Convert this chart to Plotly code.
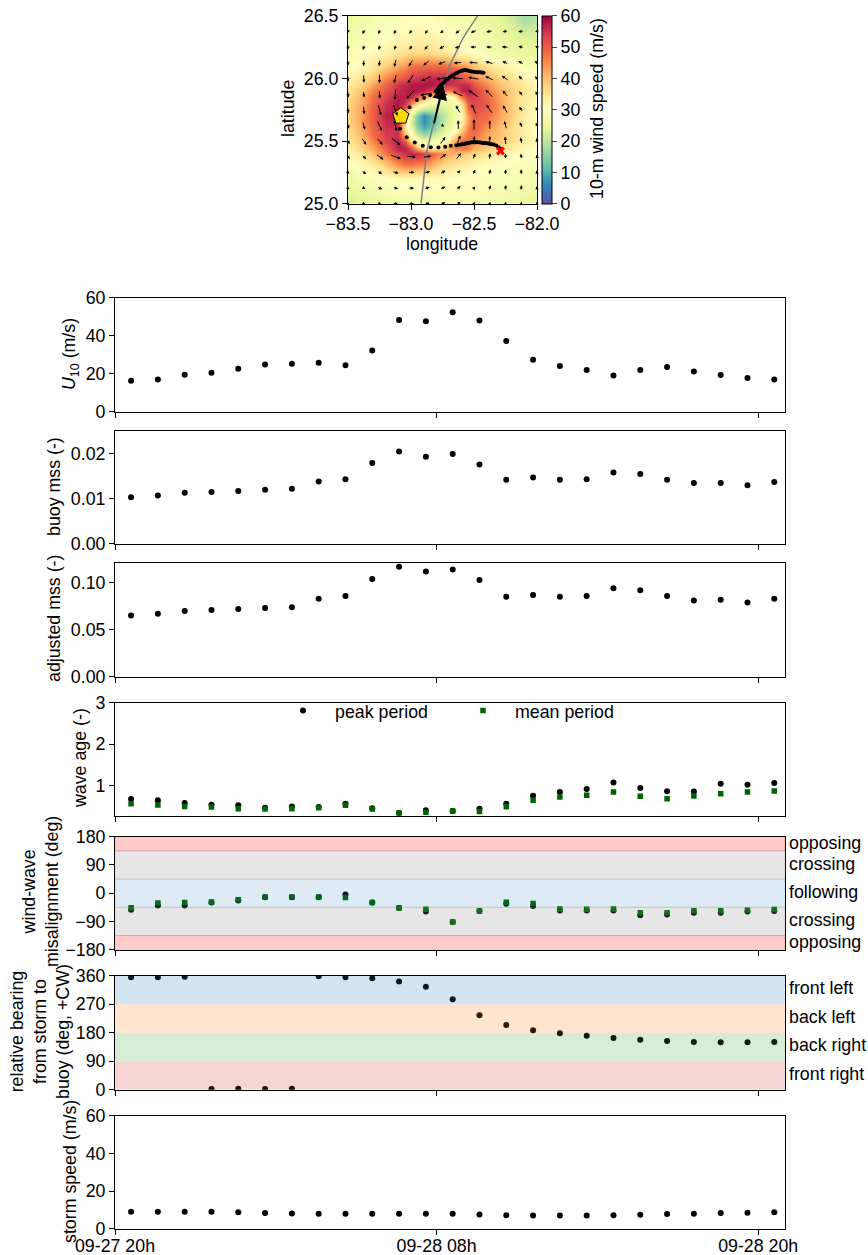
import math
import plotly.graph_objects as go

W, H = 868, 1255
FONT = "Liberation Sans"
FS = 17.8

# ---------- time series ----------
times = ["2022-09-27 20:36", "2022-09-27 21:36", "2022-09-27 22:36", "2022-09-27 23:36",
         "2022-09-28 00:36", "2022-09-28 01:36", "2022-09-28 02:36", "2022-09-28 03:36",
         "2022-09-28 04:36", "2022-09-28 05:36", "2022-09-28 06:36", "2022-09-28 07:36",
         "2022-09-28 08:36", "2022-09-28 09:36", "2022-09-28 10:36", "2022-09-28 11:36",
         "2022-09-28 12:36", "2022-09-28 13:36", "2022-09-28 14:36", "2022-09-28 15:36",
         "2022-09-28 16:36", "2022-09-28 17:36", "2022-09-28 18:36", "2022-09-28 19:36",
         "2022-09-28 20:36"]
u10 = [16.3, 17.0, 19.5, 20.5, 22.6, 24.9, 25.3, 25.8, 24.4, 32.2, 48.2, 47.6, 52.3, 48.0, 37.2,
       27.4, 24.0, 21.9, 19.0, 21.9, 23.5, 21.2, 19.3, 17.7, 16.9]
buoy_mss = [.0103, .0107, .0113, .0115, .0117, .012, .0122, .0138, .0143, .0179, .0205, .0193, .0199,
            .0176, .0142, .0147, .0142, .0143, .0158, .0155, .0142, .0135, .0135, .013, .0137]
adj_mss = [.065, .067, .07, .071, .072, .073, .074, .083, .086, .104, .117, .112, .114, .103, .085,
           .087, .085, .086, .094, .092, .086, .081, .082, .079, .083]
age_peak = [.67, .637, .573, .532, .516, .46, .49, .476, .556, .444, .33, .395, .38, .435, .556,
            .75, .84, .91, 1.07, .935, .86, .85, 1.04, 1.016, 1.056]
age_mean = [.556, .524, .49, .476, .435, .427, .435, .46, .516, .427, .33, .347, .38, .37, .484,
            .637, .72, .758, .839, .734, .677, .742, .798, .839, .863]
mis_peak = [-53, -39, -39, -30, -23, -13, -13, -13, -4, -30, -47, -58, -92, -57, -34, -41, -55, -55,
            -55, -70, -68, -62, -62, -58, -57]
mis_mean = [-46, -31, -30, -28, -21, -12, -12, -12, -14, -30, -47, -51, -92, -57, -29, -33, -50, -51,
            -50, -62, -62, -56, -56, -54, -52]
bearing = [355, 355, 357, 2, 3, 2, 3, 358, 355, 352, 342, 325, 286, 235, 204, 188, 178, 170, 163, 158,
           154, 151, 150, 150, 151]
storm_speed = [9, 9, 9, 9, 8.8, 8.3, 8.1, 8, 8, 8, 8, 8, 8, 7.6, 7.1, 7, 7, 7, 7.1, 7.4, 7.8, 8, 8.3, 8.5, 8.7]

# ---------- map ----------
lon_grid = [-83.5, -83.4, -83.3, -83.2, -83.1, -83.05, -83.0, -82.95, -82.9, -82.85, -82.8, -82.75, -82.7, -82.65,
            -82.6, -82.55, -82.5, -82.4, -82.3, -82.2, -82.1, -82.0]
lat_grid = [26.5, 26.4, 26.3, 26.2, 26.1, 26.0, 25.95, 25.9, 25.85, 25.8, 25.75, 25.7, 25.65, 25.6, 25.55, 25.5, 25.45,
            25.4, 25.3, 25.2, 25.1, 25.0]
wind = [
    [25, 26, 27, 28, 28, 29, 29, 29, 29, 29, 28, 28, 27, 27, 27, 27, 26, 25, 24, 21, 17, 19],
    [26, 27, 28, 29, 30, 30, 31, 31, 31, 31, 30, 30, 29, 29, 28, 28, 27, 26, 25, 23, 21, 22],
    [27, 28, 29, 30, 32, 32, 33, 33, 33, 33, 32, 32, 31, 30, 29, 29, 28, 27, 26, 25, 24, 24],
    [28, 29, 31, 33, 35, 36, 37, 37, 37, 37, 36, 35, 34, 33, 32, 31, 30, 28, 27, 26, 25, 25],
    [29, 31, 34, 38, 42, 44, 47, 48, 48, 48, 48, 48, 47, 46, 44, 42, 39, 35, 33, 31, 29, 28],
    [32, 35, 39, 46, 50, 52, 54, 55, 56, 57, 57, 57, 57, 55, 52, 49, 46, 42, 38, 35, 32, 30],
    [34, 37, 43, 49, 55, 56, 57, 58, 58, 58, 57, 56, 55, 55, 56, 56, 51, 45, 40, 37, 34, 31],
    [35, 39, 46, 51, 56, 57, 58, 58, 57, 54, 52, 48, 46, 50, 56, 58, 54, 48, 42, 38, 35, 32],
    [36, 41, 48, 53, 57, 57, 56, 52, 44, 38, 34, 30, 29, 34, 46, 54, 54, 49, 43, 38, 34, 32],
    [37, 42, 49, 55, 58, 55, 46, 36, 30, 27, 25, 25, 25, 28, 34, 50, 53, 50, 44, 38, 34, 31],
    [37, 43, 50, 56, 58, 48, 34, 24, 20, 20, 20, 22, 24, 26, 31, 48, 52, 49, 44, 38, 34, 31],
    [37, 43, 50, 57, 57, 40, 26, 14, 6, 10, 15, 19, 23, 26, 30, 44, 50, 48, 43, 38, 33, 31],
    [37, 43, 50, 56, 56, 36, 24, 13, 7, 10, 15, 20, 24, 27, 32, 44, 50, 46, 42, 37, 33, 31],
    [36, 42, 49, 55, 55, 35, 26, 16, 10, 13, 17, 22, 26, 29, 36, 46, 50, 44, 40, 36, 33, 30],
    [35, 41, 48, 54, 55, 40, 30, 22, 17, 18, 22, 26, 29, 34, 42, 48, 48, 43, 40, 36, 33, 30],
    [34, 39, 46, 53, 57, 50, 36, 30, 27, 26, 28, 30, 34, 42, 48, 48, 45, 42, 39, 36, 33, 31],
    [33, 37, 43, 50, 57, 57, 51, 40, 33, 31, 33, 36, 42, 46, 47, 47, 42, 39, 36, 33, 31, 30],
    [31, 34, 40, 47, 53, 55, 57, 56, 54, 51, 48, 45, 42, 41, 40, 38, 37, 35, 33, 31, 30, 29],
    [29, 31, 33, 38, 44, 46, 46, 45, 44, 42, 39, 36, 35, 34, 33, 32, 31, 30, 30, 29, 29, 28],
    [26, 28, 29, 30, 31, 31, 31, 31, 31, 31, 31, 31, 30, 30, 30, 30, 29, 29, 29, 28, 28, 27],
    [25, 26, 27, 28, 29, 29, 29, 29, 29, 29, 29, 29, 29, 29, 29, 29, 29, 28, 28, 27, 27, 26],
    [22, 24, 25, 26, 26, 27, 27, 27, 27, 28, 28, 28, 28, 28, 28, 28, 28, 27, 27, 26, 25, 25],
]
arrow_lons = [-83.5, -83.375, -83.25, -83.125, -83.0, -82.875, -82.75, -82.625, -82.5, -82.375, -82.25, -82.125, -82.0]
arrow_lats = [26.375, 26.25, 26.125, 26.0, 25.875, 25.75, 25.625, 25.5, 25.375, 25.25, 25.125, 25.0]
arrow_dir = [
    [250, 245, 245, 240, 235, 235, 215, 220, 200, 190, 185, 185, 180],
    [255, 255, 255, 250, 240, 230, 210, 195, 180, 180, 175, 165, 160],
    [268, 265, 262, 255, 240, 220, 200, 185, 175, 165, 155, 150, 145],
    [270, 272, 270, 255, 235, 205, 190, 175, 170, 155, 145, 140, 135],
    [272, 275, 275, 265, 225, 190, 170, 155, 145, 135, 130, 125, 120],
    [275, 278, 285, 290, 240, 200, 100, 120, 115, 125, 120, 125, 115],
    [285, 285, 295, 285, 300, 10, 90, 90, 90, 90, 105, 115, 115],
    [295, 305, 310, 320, 340, 20, 55, 70, 85, 90, 95, 100, 105],
    [310, 315, 325, 340, 355, 10, 35, 50, 70, 85, 90, 95, 100],
    [320, 325, 330, 345, 0, 15, 30, 45, 65, 80, 85, 90, 95],
    [325, 330, 335, 345, 355, 15, 25, 40, 55, 70, 80, 85, 90],
    [330, 335, 340, 350, 0, 15, 25, 40, 55, 70, 75, 85, 90],
]
arrow_len = [
    [4, 6, 6, 6, 6, 6, 6, 7, 7, 7, 6, 6, 4],
    [6, 6, 6, 6, 6, 7, 7, 7, 7, 7, 7, 6, 4],
    [6, 7, 7, 9, 9, 9, 9, 9, 10, 9, 7, 7, 6],
    [7, 9, 10, 10, 12, 12, 12, 12, 12, 10, 9, 7, 6],
    [7, 7, 9, 12, 13, 13, 12, 12, 13, 12, 9, 7, 6],
    [7, 9, 12, 13, 0, 0, 0, 10, 12, 12, 10, 7, 6],
    [7, 9, 12, 12, 0, 0, 4, 10, 12, 10, 9, 7, 6],
    [7, 9, 10, 13, 0, 0, 10, 12, 10, 10, 9, 7, 6],
    [6, 7, 10, 12, 10, 9, 9, 9, 7, 7, 6, 6, 4],
    [4, 6, 6, 7, 7, 7, 7, 6, 6, 6, 6, 6, 4],
    [4, 4, 6, 6, 6, 6, 6, 6, 4, 6, 6, 6, 4],
    [4, 4, 4, 6, 6, 6, 6, 6, 4, 4, 4, 4, 4],
]
track_lon = [-82.92, -82.875, -82.82, -82.747, -82.69, -82.583, -82.47]
track_lat = [25.0, 25.42, 25.64, 25.915, 26.11, 26.33, 26.5]
buoy_lon = [-82.291, -82.305, -82.323, -82.344, -82.358, -82.371, -82.384, -82.397, -82.411, -82.424, -82.437,
            -82.450, -82.463, -82.477, -82.49, -82.503, -82.516, -82.530, -82.543, -82.556, -82.567, -82.578,
            -82.591, -82.604, -82.622, -82.641, -82.684, -82.729, -82.782, -82.843, -82.906, -82.970, -83.034,
            -83.087, -83.012, -82.954, -82.896, -82.848, -82.803, -82.79, -82.782, -82.772, -82.761, -82.75,
            -82.737, -82.724, -82.710, -82.693, -82.676, -82.658, -82.641, -82.625, -82.609, -82.596, -82.583,
            -82.57, -82.556, -82.543, -82.530, -82.516, -82.503, -82.49, -82.477, -82.463, -82.450, -82.437, -82.424]
buoy_lat = [25.438, 25.451, 25.464, 25.472, 25.475, 25.477, 25.480, 25.483, 25.484, 25.485, 25.487,
            25.488, 25.490, 25.491, 25.491, 25.491, 25.490, 25.488, 25.485, 25.483, 25.480, 25.477,
            25.475, 25.472, 25.470, 25.467, 25.462, 25.454, 25.448, 25.451, 25.462, 25.488, 25.531,
            25.599, 25.769, 25.828, 25.844, 25.865, 25.897, 25.91, 25.923, 25.937, 25.950, 25.958,
            25.968, 25.982, 25.995, 26.008, 26.021, 26.031, 26.040, 26.048, 26.056, 26.06, 26.064,
            26.066, 26.064, 26.06, 26.056, 26.054, 26.053, 26.05, 26.048, 26.048, 26.048, 26.046, 26.045]
buoy_now = (-83.081, 25.698)
buoy_start = (-82.29, 25.42)
storm_tail = (-82.82, 25.63)
storm_tip = (-82.745, 25.95)

# ---------- panel labels ----------
mis_bands = [(135, 180, "255,0,0"), (45, 135, "128,128,128"), (-45, 45, "31,119,180"),
             (-135, -45, "128,128,128"), (-180, -135, "255,0,0")]
mis_alpha = [0.2, 0.2, 0.15, 0.2, 0.2]
mis_labels = [("opposing", 843), ("crossing", 864), ("following", 892), ("crossing", 920), ("opposing", 942)]
bear_bands = [(270, 360, "31,119,180"), (180, 270, "255,127,14"), (90, 180, "44,160,44"), (0, 90, "214,39,40")]
bear_labels = [("front left", 988), ("back left", 1017), ("back right", 1045), ("front right", 1074)]
x_ticks = ["2022-09-27 20:00", "2022-09-28 08:00", "2022-09-28 20:00"]
x_ticktext = ["09-27 20h", "09-28 08h", "09-28 20h"]
x_range = ["2022-09-27 20:00", "2022-09-28 21:00"]

def px(x): return x / W
def py(y): return 1 - y / H
def pd(y): return 1 - (y + 0.7) / H

fig = go.Figure()
layout = dict(width=W, height=H, autosize=False, margin=dict(l=0, r=0, t=0, b=0, autoexpand=False),
              paper_bgcolor="white", plot_bgcolor="white", font=dict(family=FONT, size=FS, color="black"),
              annotations=[], shapes=[])
axcommon = dict(showline=True, mirror=True, linecolor="black", linewidth=1, showgrid=False, zeroline=False,
                ticks="outside", ticklen=5, tickwidth=1, tickcolor="black")

# map axes
layout["xaxis"] = dict(axcommon, domain=[px(348), px(537)], range=[-83.5, -82], tickvals=[-83.5, -83, -82.5, -82],
                       tickformat=".1f", anchor="y", ticklabelstandoff=-1)
layout["yaxis"] = dict(axcommon, domain=[pd(203), pd(15)], range=[25, 26.5], tickvals=[25, 25.5, 26, 26.5],
                       tickformat=".1f", anchor="x")
fig.add_trace(go.Heatmap(x=lon_grid, y=lat_grid, z=wind, colorscale="Spectral_r", zmin=0, zmax=60, zsmooth="best",
                         colorbar=dict(x=px(542), xanchor="left", y=pd(203), yanchor="bottom", len=188, lenmode="pixels",
                                       thickness=10, thicknessmode="pixels", outlinecolor="black", outlinewidth=1,
                                       tickvals=[0, 10, 20, 30, 40, 50, 60], ticks="outside", ticklen=5, tickwidth=1,
                                       xpad=0, ypad=0)))
fig.add_trace(go.Scatter(x=track_lon, y=track_lat, mode="lines", line=dict(color="#808080", width=1.5), showlegend=False))
fig.add_trace(go.Scatter(x=buoy_lon, y=buoy_lat, mode="markers", marker=dict(color="black", size=4), showlegend=False))
fig.add_trace(go.Scatter(x=[buoy_start[0]], y=[buoy_start[1]], mode="markers",
                         marker=dict(symbol="x", color="red", size=8, line=dict(width=0)), showlegend=False))
fig.add_trace(go.Scatter(x=[buoy_now[0]], y=[buoy_now[1]], mode="markers",
                         marker=dict(symbol="pentagon", color="#FFD700", size=17, line=dict(color="black", width=1)),
                         showlegend=False))
for j, lat in enumerate(arrow_lats):
    for i, lon in enumerate(arrow_lons):
        a = math.radians(arrow_dir[j][i]); L = arrow_len[j][i]
        if L == 0:
            continue
        dx = math.cos(a) * L / 126.0; dy = math.sin(a) * L / 125.3
        layout["annotations"].append(dict(x=lon + dx / 2, y=lat + dy / 2, ax=lon - dx / 2, ay=lat - dy / 2,
                                          xref="x", yref="y", axref="x", ayref="y", text="", showarrow=True,
                                          arrowhead=2, arrowsize=0.65, arrowwidth=1, arrowcolor="black", standoff=0))
layout["annotations"].append(dict(x=storm_tip[0], y=storm_tip[1], ax=storm_tail[0], ay=storm_tail[1],
                                  xref="x", yref="y", axref="x", ayref="y", text="", showarrow=True,
                                  arrowhead=2, arrowsize=1.5, arrowwidth=2, arrowcolor="black", standoff=0))

# time panels
panels = [
    (297, 411, [0, 60], [0, 20, 40, 60], None, [(u10, "black", "circle", None)]),
    (430, 543, [0, 0.0251], [0, .01, .02], ".2f", [(buoy_mss, "black", "circle", None)]),
    (562, 676, [0, 0.1213], [0, .05, .1], ".2f", [(adj_mss, "black", "circle", None)]),
    (702, 815, [0.266, 3], [1, 2, 3], None, [(age_peak, "black", "circle", "peak period"), (age_mean, "#006400", "square", "mean period")]),
    (836, 949, [-180, 180], [-180, -90, 0, 90, 180], None, [(mis_peak, "black", "circle", None), (mis_mean, "#006400", "square", None)]),
    (975, 1089, [0, 360], [0, 90, 180, 270, 360], None, [(bearing, "black", "circle", None)]),
    (1115, 1228, [0, 60], [0, 20, 40, 60], None, [(storm_speed, "black", "circle", None)]),
]
for k, (top, bot, yr, yt, yfmt, series) in enumerate(panels):
    n = k + 2
    last = k == len(panels) - 1
    layout[f"xaxis{n}"] = dict(axcommon, domain=[px(115), px(785)], type="date", range=x_range, tickvals=x_ticks,
                               ticktext=x_ticktext, showticklabels=last, anchor=f"y{n}", ticklabelstandoff=-4)
    ya = dict(axcommon, domain=[pd(bot), pd(top)], range=yr, tickvals=yt, anchor=f"x{n}")
    if yfmt:
        ya["tickformat"] = yfmt
    layout[f"yaxis{n}"] = ya
    for vals, col, sym, name in series:
        fig.add_trace(go.Scatter(x=times, y=vals, mode="markers", xaxis=f"x{n}", yaxis=f"y{n}", name=name,
                                 showlegend=name is not None, cliponaxis=True,
                                 marker=dict(color=col, symbol=sym, size=6 if sym == "circle" else 5.5, line=dict(width=0))))

for (y0, y1, rgb), al in zip(mis_bands, mis_alpha):
    layout["shapes"].append(dict(type="rect", xref="x6 domain", yref="y6", x0=0, x1=1, y0=y0, y1=y1, layer="above",
                                 fillcolor=f"rgba({rgb},{al})", line=dict(color=f"rgba({rgb},{al})", width=1)))
for y0, y1, rgb in bear_bands:
    layout["shapes"].append(dict(type="rect", xref="x7 domain", yref="y7", x0=0, x1=1, y0=y0, y1=y1, layer="above",
                                 fillcolor=f"rgba({rgb},0.2)", line=dict(width=0)))
for txt, y in mis_labels + bear_labels:
    layout["annotations"].append(dict(text=txt, xref="paper", yref="paper", x=px(787), y=py(y), xanchor="left",
                                      yanchor="middle", showarrow=False))

titles = [("latitude", 288, 109), ("10-m wind speed (m/s)", 597, 109), ("<i>U</i><sub>10</sub> (m/s)", 70, 354),
          ("buoy mss (-)", 54, 487), ("adjusted mss (-)", 54, 619), ("wave age (-)", 80, 758),
          ("wind-wave<br>misalignment (deg)", 40, 892),
          ("relative bearing<br>from storm to<br>buoy (deg, +CW)", 40, 1032), ("storm speed (m/s)", 70, 1172)]
for txt, x, y in titles:
    layout["annotations"].append(dict(text=txt, xref="paper", yref="paper", x=px(x), y=py(y), xanchor="center",
                                      yanchor="middle", textangle=-90, showarrow=False))
layout["annotations"].append(dict(text="longitude", xref="paper", yref="paper", x=px(442), y=py(244), xanchor="center",
                                  yanchor="middle", showarrow=False))
layout["legend"] = dict(orientation="h", x=px(271), y=py(711), xanchor="left", yanchor="middle", bgcolor="rgba(0,0,0,0)",
                        itemwidth=54, entrywidth=111, entrywidthmode="pixels", font=dict(size=FS), traceorder="normal")
layout["showlegend"] = True
fig.update_layout(**layout)
fig.write_html("out.html", config={"displayModeBar": False}, post_script="document.body.style.margin='0';")
